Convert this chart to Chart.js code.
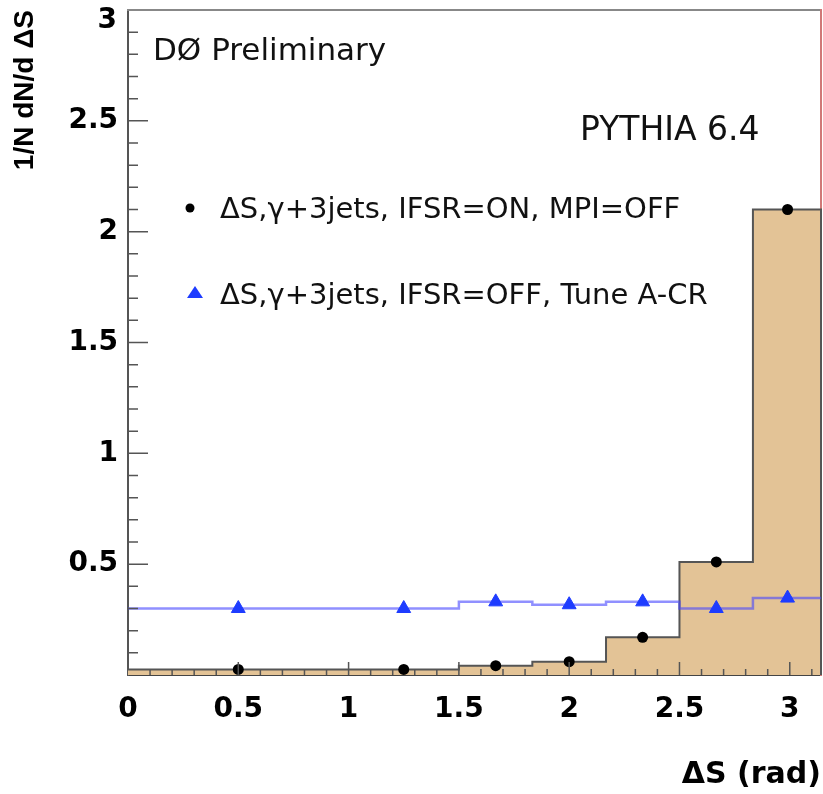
<!DOCTYPE html>
<html>
<head>
<meta charset="utf-8">
<script src="https://cdn.jsdelivr.net/npm/chart.js@4.4.1/dist/chart.umd.min.js"></script>
<style>
html, body { margin: 0; padding: 0; background: #fff; }
#wrap { width: 823px; height: 794px; }
</style>
</head>
<body>
<div id="wrap"><canvas id="c" width="823" height="794"></canvas></div>
<script>
// bins in delta S (rad), last edge is pi
const binEdges = [0, 1.0, 1.5, 1.833, 2.167, 2.5, 2.833, Math.PI];
const binCenters = [0.5, 1.25, 1.667, 2.0, 2.333, 2.667, 2.99];
// IFSR=ON, MPI=OFF (filled histogram + black dots)
const ifsrOn = [0.025, 0.025, 0.042, 0.06, 0.17, 0.51, 2.10];
// IFSR=OFF, Tune A-CR (blue line + triangles)
const ifsrOff = [0.30, 0.30, 0.33, 0.317, 0.33, 0.30, 0.347];
const xTickValues = [0, 0.5, 1, 1.5, 2, 2.5, 3];
const yTickValues = [0.5, 1, 1.5, 2, 2.5, 3];

const labelFont = "'DejaVu Sans'";

function stepPoints(vals, closeDown) {
    let pts = vals.map((v, i) => ({ x: binEdges[i], y: v }));
    let last = binEdges[binEdges.length - 1];
    pts.push({ x: last, y: vals[vals.length - 1] });
    if (closeDown) pts.push({ x: last, y: 0 });
    return pts;
}

function markerPoints(vals) {
    return vals.map((v, i) => ({ x: binCenters[i], y: v }));
}

// inner ticks, text, legend
const decoPlugin = {
    id: 'deco',
    afterDatasetsDraw(chart) {
        const { ctx, chartArea: a, scales } = chart;
        const x = scales.x, y = scales.y;
        ctx.save();
        ctx.strokeStyle = '#555';
        ctx.lineWidth = 1.5;
        ctx.beginPath();
        for (let k = 1; k < 30; k++) {
            let py = y.getPixelForValue(k / 10);
            let len = k % 5 === 0 ? 20 : 10;
            ctx.moveTo(a.left, py);
            ctx.lineTo(a.left + len, py);
        }
        for (let k = 1; k <= 31; k++) {
            let px = x.getPixelForValue(k / 10);
            let len = k % 5 === 0 ? 13 : 6;
            ctx.moveTo(px, a.bottom);
            ctx.lineTo(px, a.bottom - len);
        }
        ctx.stroke();

        // top y label sits below the frame edge
        ctx.fillStyle = '#000';
        ctx.font = "bold 28px " + labelFont;
        ctx.textAlign = 'right';
        ctx.textBaseline = 'top';
        ctx.fillText('3', a.left - 11, y.getPixelForValue(3) - 3);

        ctx.textBaseline = 'middle';
        ctx.textAlign = 'left';
        ctx.fillStyle = '#111';
        ctx.font = "31px " + labelFont;
        ctx.fillText('DØ Preliminary', a.left + 25, a.top + 42);
        ctx.font = "33px " + labelFont;
        ctx.fillText('PYTHIA 6.4', a.left + 452, a.top + 121);

        ctx.font = "29px " + labelFont;
        ctx.fillText('ΔS,γ+3jets, IFSR=ON, MPI=OFF', a.left + 92, a.top + 200);
        ctx.fillText('ΔS,γ+3jets, IFSR=OFF, Tune A-CR', a.left + 92, a.top + 286);

        ctx.fillStyle = '#000';
        ctx.beginPath();
        ctx.arc(a.left + 62, a.top + 198, 4.5, 0, Math.PI * 2);
        ctx.fill();
        ctx.fillStyle = '#1e3cff';
        ctx.beginPath();
        ctx.moveTo(a.left + 67, a.top + 276);
        ctx.lineTo(a.left + 75, a.top + 288);
        ctx.lineTo(a.left + 59, a.top + 288);
        ctx.closePath();
        ctx.fill();
        ctx.restore();
    }
};

let ctx = document.getElementById('c').getContext('2d');
let chart = new Chart(ctx, {
    type: 'line',
    data: {
        datasets: [
            {
                label: 'IFSR=OFF, Tune A-CR',
                data: markerPoints(ifsrOff),
                showLine: false,
                pointStyle: 'triangle',
                pointRadius: 8,
                backgroundColor: '#1e3cff',
                borderColor: '#1e3cff',
                borderWidth: 1,
                clip: 12
            },
            {
                label: 'IFSR=ON, MPI=OFF',
                data: markerPoints(ifsrOn),
                showLine: false,
                pointStyle: 'circle',
                pointRadius: 5.5,
                backgroundColor: '#000',
                borderColor: '#000',
                borderWidth: 0,
                clip: 12
            },
            {
                label: 'IFSR=OFF line',
                data: stepPoints(ifsrOff, false),
                stepped: true,
                pointRadius: 0,
                borderColor: 'rgba(70, 70, 255, 0.6)',
                borderWidth: 2.5,
                fill: false,
                clip: 4
            },
            {
                label: 'IFSR=ON hist',
                data: stepPoints(ifsrOn, true),
                stepped: true,
                pointRadius: 0,
                borderColor: '#555',
                borderWidth: 2,
                backgroundColor: '#e3c396',
                fill: 'origin',
                clip: 4
            }
        ]
    },
    options: {
        responsive: false,
        animation: false,
        devicePixelRatio: 1,
        layout: { autoPadding: false, padding: { top: 10, right: 2, left: 0, bottom: 0 } },
        plugins: {
            legend: { display: false },
            tooltip: { enabled: false }
        },
        scales: {
            x: {
                type: 'linear',
                min: 0,
                max: Math.PI,
                afterBuildTicks: (s) => { s.ticks = xTickValues.map(v => ({ value: v })); },
                afterFit: (s) => { s.height = 119; s.paddingLeft = 0; s.paddingRight = 0; },
                grid: { display: false, drawTicks: false },
                border: { display: true, color: '#444', width: 2 },
                ticks: {
                    color: '#000',
                    padding: 18,
                    maxRotation: 0,
                    font: { family: labelFont, weight: 'bold', size: 28 },
                    callback: (v) => String(v)
                },
                title: {
                    display: true,
                    text: 'ΔS (rad)',
                    align: 'end',
                    color: '#000',
                    font: { family: labelFont, weight: 'bold', size: 30 },
                    padding: { top: 0, bottom: 1 }
                }
            },
            y: {
                type: 'linear',
                min: 0,
                max: 3,
                afterBuildTicks: (s) => { s.ticks = yTickValues.map(v => ({ value: v })); },
                afterFit: (s) => { s.width = 128; s.paddingTop = 0; s.paddingBottom = 0; },
                grid: { display: false, drawTicks: false },
                border: { display: true, color: '#555', width: 2 },
                ticks: {
                    color: '#000',
                    padding: 10,
                    font: { family: labelFont, weight: 'bold', size: 28 },
                    callback: (v) => (v === 3 ? '' : String(v))
                },
                title: {
                    display: true,
                    text: '1/N dN/d ΔS',
                    align: 'end',
                    color: '#000',
                    font: { family: "'Liberation Sans'", weight: 'bold', size: 28 },
                    padding: { top: 8, bottom: 0 }
                }
            },
            xTop: {
                type: 'linear',
                position: 'top',
                min: 0,
                max: Math.PI,
                afterFit: (s) => { s.height = 0; s.paddingLeft = 0; s.paddingRight = 0; },
                grid: { display: false, drawTicks: false },
                ticks: { display: false },
                border: { display: true, color: '#888', width: 2 }
            },
            yRight: {
                type: 'linear',
                position: 'right',
                min: 0,
                max: 3,
                afterFit: (s) => { s.width = 0; s.paddingTop = 0; s.paddingBottom = 0; },
                grid: { display: false, drawTicks: false },
                ticks: { display: false },
                border: { display: true, color: '#d07878', width: 2 }
            }
        }
    },
    plugins: [decoPlugin]
});
</script>
</body>
</html>
